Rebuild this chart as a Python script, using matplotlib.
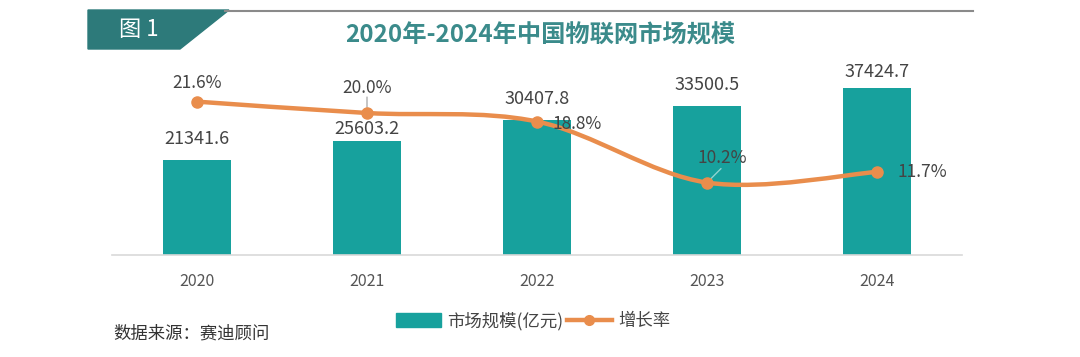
import matplotlib.pyplot as plt
from matplotlib.path import Path
from matplotlib.patches import PathPatch, Polygon, Patch
from matplotlib.lines import Line2D
import numpy as np

plt.rcParams['font.family'] = ['Noto Sans CJK SC', 'DejaVu Sans']

years = ['2020', '2021', '2022', '2023', '2024']
market = [21341.6, 25603.2, 30407.8, 33500.5, 37424.7]
growth = [21.6, 20.0, 18.8, 10.2, 11.7]

title = '2020年-2024年中国物联网市场规模'
bar_label = '市场规模(亿元)'
line_label = '增长率'
source = '数据来源：赛迪顾问'

teal = '#17a19d'
orange = '#e98d4c'
text_gray = '#444444'

fig = plt.figure(figsize=(10.8, 3.57), dpi=100)
W, H = 1080, 357

def fx(px):
    return px / W

def fy(py):
    return 1 - py / H

# header: teal tab + gray rule
tab = Polygon([(fx(88), fy(10)), (fx(229), fy(10)), (fx(180), fy(49)), (fx(88), fy(49))],
              closed=True, transform=fig.transFigure, color='#2d7a7a', zorder=1)
fig.patches.append(tab)
fig.add_artist(Line2D([fx(225), fx(973)], [fy(11), fy(11)], transform=fig.transFigure,
                      color='#8a8a8a', lw=1.5))
fig.text(fx(139), fy(30), '图 1', color='white', fontsize=16, ha='center', va='center')
fig.text(fx(540), fy(35), title, color='#3b8b8b', fontsize=17.5, fontweight='bold',
         ha='center', va='center')

ax = fig.add_axes([fx(112), fy(255), fx(962) - fx(112), (255 - 60) / H])
x = np.arange(len(years))
ax.bar(x, market, width=0.40, color=teal, zorder=2)
ax.set_xlim(-0.5, len(years) - 0.5)
ax.set_ylim(0, 195 * 224.6)
for s in ['top', 'right', 'left']:
    ax.spines[s].set_visible(False)
ax.spines['bottom'].set_color('#d9d9d9')
ax.spines['bottom'].set_linewidth(1.2)
ax.set_yticks([])
ax.set_xticks(x)
ax.set_xticklabels(years, color='#555555', fontsize=11.5)
ax.tick_params(axis='x', length=0, pad=13)

bar_offsets = [21, 12, 21, 21, 16]
for xi, v, off in zip(x, market, bar_offsets):
    ax.annotate(f'{v:.1f}', (xi, v), xytext=(0, off), textcoords='offset pixels',
                ha='center', va='center', fontsize=13, color=text_gray)

ax2 = ax.twinx()
ax2.set_ylim(0, 195 / 7.1)
ax2.set_yticks([])
for s in ax2.spines.values():
    s.set_visible(False)

# smooth (Excel-like) curve through the points using cubic Bezier segments
pts = np.column_stack([x, growth]).astype(float)
verts = [tuple(pts[0])]
codes = [Path.MOVETO]
t = 1 / 6
for i in range(len(pts) - 1):
    p0 = pts[i - 1] if i > 0 else pts[i]
    p1, p2 = pts[i], pts[i + 1]
    p3 = pts[i + 2] if i + 2 < len(pts) else pts[i + 1]
    c1 = p1 + (p2 - p0) * t
    c2 = p2 - (p3 - p1) * t
    verts += [tuple(c1), tuple(c2), tuple(p2)]
    codes += [Path.CURVE4] * 3
ax2.add_patch(PathPatch(Path(verts, codes), fill=False, edgecolor=orange, lw=3.2,
                        zorder=3, capstyle='round'))
ax2.plot(x, growth, 'o', color=orange, markersize=8, zorder=4)

pct_pos = [((0, 19), 'center'), ((0, 25), 'center'), ((15, -2), 'left'),
           ((15, 25), 'center'), ((20, 0), 'left')]
for xi, g, (off, ha) in zip(x, growth, pct_pos):
    ax2.annotate(f'{g:.1f}%', (xi, g), xytext=off, textcoords='offset pixels',
                 ha=ha, va='center', fontsize=12.5, color=text_gray, zorder=5)

# leader lines for the labels that sit off their points
ax2.annotate('', (x[1], growth[1]), xytext=(0, 16), textcoords='offset pixels',
             arrowprops=dict(arrowstyle='-', color='#999999', lw=0.8, shrinkA=0, shrinkB=4))
ax2.annotate('', (x[3], growth[3]), xytext=(14, 14), textcoords='offset pixels',
             arrowprops=dict(arrowstyle='-', color='#8fd3d0', lw=1.0, shrinkA=0, shrinkB=4))

handles = [Patch(color=teal),
           Line2D([0], [0], color=orange, lw=3.2, marker='o', markersize=7)]
fig.legend(handles, [bar_label, line_label], loc='center', bbox_to_anchor=(fx(533), fy(321)),
           ncol=2, frameon=False, fontsize=12.5, handlelength=2.6, handleheight=0.9,
           columnspacing=0.2, handletextpad=0.35, labelcolor='#444444')

fig.text(fx(113), fy(333), source, color='#333333', fontsize=12.5, ha='left', va='center')

fig.savefig('out.png', dpi=100, facecolor='white')
